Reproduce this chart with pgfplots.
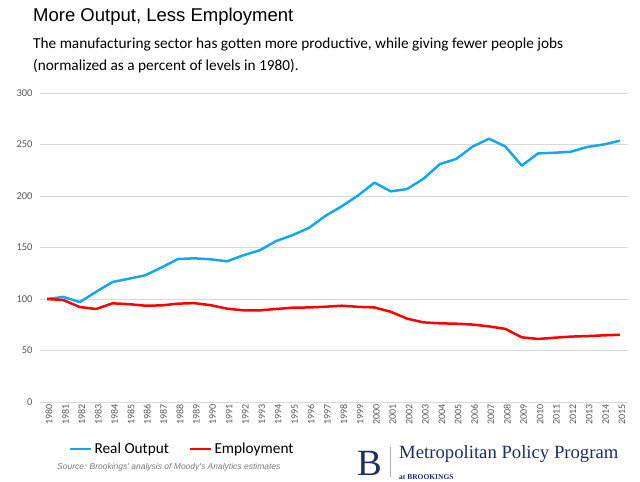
\documentclass[border=0pt]{standalone}
\usepackage{pgfplots}
\pgfplotsset{compat=1.18}
\usepackage{fontspec}
\setmainfont{Carlito}
\newfontfamily\arialfont{Liberation Sans}
\newfontfamily\seriffont{Liberation Serif}
\definecolor{outblue}{RGB}{22,167,232}
\definecolor{empred}{RGB}{255,0,0}
\definecolor{gridgray}{RGB}{217,217,217}
\definecolor{ticktext}{RGB}{89,89,89}
\definecolor{navy}{RGB}{30,48,92}
\pgfplotstableread{
year output emp
1980 100 100
1981 102 99
1982 97 92.2
1983 107 90.3
1984 116.5 95.8
1985 119.7 95
1986 123 93.5
1987 130.7 93.8
1988 138.8 95.5
1989 139.5 96
1990 138.5 94
1991 136.6 90.6
1992 142.5 89
1993 147.3 89
1994 156.3 90.3
1995 162 91.6
1996 169 91.8
1997 180.6 92.5
1998 190 93.5
1999 200.5 92.4
2000 213 91.8
2001 204.5 87.6
2002 206.8 80.9
2003 216.8 77.3
2004 231 76.4
2005 236 76
2006 248 75.2
2007 255.6 73.4
2008 248 71
2009 229.5 62.8
2010 241.4 61.2
2011 242 62.4
2012 243 63.5
2013 247.6 64
2014 250 64.7
2015 253.7 65.3
}\datatable
\begin{document}
\begin{tikzpicture}[x=1pt,y=1pt]
\path[use as bounding box] (0,0) rectangle (640,-482);
\node[anchor=west,inner sep=0pt,font=\arialfont\fontsize{18.5}{22}\selectfont] at (33,-17) {More Output, Less Employment};
\node[anchor=west,inner sep=0pt,font=\fontsize{15.3}{18}\selectfont] at (33,-45) {The manufacturing sector has gotten more productive, while giving fewer people jobs};
\node[anchor=west,inner sep=0pt,font=\fontsize{15.3}{18}\selectfont] at (33,-66) {(normalized as a percent of levels in 1980).};
\begin{axis}[
  at={(40pt,-402pt)}, anchor=south west,
  scale only axis, width=588pt, height=309pt,
  xmin=1979.57, xmax=2015.49, ymin=0, ymax=300,
  axis line style={draw=none},
  tick style={draw=none},
  ymajorgrids, major grid style={color=gridgray, line width=0.8pt},
  ytick={0,50,...,300},
  xtick={1980,...,2015},
  /pgf/number format/assume math mode=true,
  /pgf/number format/1000 sep={},
  x tick label style={rotate=90, anchor=east, font=\fontsize{10}{10}\selectfont, text=ticktext, inner sep=2pt, yshift=-2pt},
  y tick label style={font=\fontsize{10.5}{10}\selectfont, text=ticktext, xshift=-4pt},
  legend columns=2,
  legend style={at={(0.044,-0.152)}, anchor=west, draw=none, fill=none, font=\fontsize{15.3}{18}\selectfont, /tikz/every even column/.append style={column sep=18pt}},
  legend image code/.code={\draw[#1] (0pt,0pt) -- (21pt,0pt);},
]
\addplot[outblue, line width=2.5pt, line join=round] table[x=year,y=output]{\datatable};
\addlegendentry{Real Output}
\addplot[empred, line width=2.5pt, line join=round] table[x=year,y=emp]{\datatable};
\addlegendentry{Employment}
\end{axis}
\node[anchor=west,inner sep=0pt,text=ticktext!80,font=\arialfont\itshape\fontsize{8.5}{10}\selectfont] at (57,-467) {Source: Brookings' analysis of Moody's Analytics estimates};
\node[anchor=base west,inner sep=0pt,text=navy,font=\seriffont\fontsize{37}{40}\selectfont] at (357,-475) {B};
\draw[gray!60, line width=0.6pt] (390,-447) -- (390,-477);
\node[anchor=base west,inner sep=0pt,text=navy,font=\seriffont\fontsize{18.7}{22}\selectfont] at (399,-458) {Metropolitan Policy Program};
\node[anchor=base west,inner sep=0pt,text=navy,font=\seriffont\bfseries\fontsize{7.5}{9}\selectfont] at (399,-479) {at BROOKINGS};
\end{tikzpicture}
\end{document}
